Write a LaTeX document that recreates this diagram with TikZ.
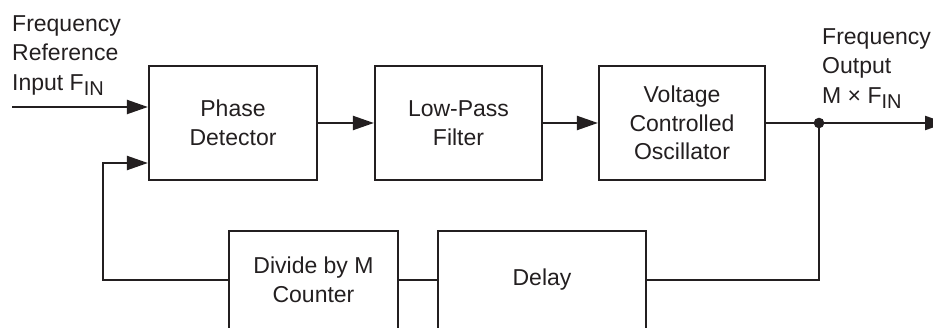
\documentclass[tikz,border=0pt]{standalone}
\usepackage{fontspec}
\setmainfont{Liberation Sans}
\usetikzlibrary{arrows.meta}
\definecolor{ink}{RGB}{35,31,32}
\newcommand{\subIN}{\raisebox{-5pt}{\fontsize{20}{20}\selectfont IN}}
\tikzset{
	blk/.style={draw=ink,text=ink,line width=2.2pt,align=center,inner sep=0pt,font=\fontsize{23}{28.5}\selectfont},
	wire/.style={draw=ink,line width=2.2pt},
	lbl/.style={text=ink,align=left,inner sep=0pt,anchor=north west,font=\fontsize{23}{29.5}\selectfont},
}
\begin{document}
\begin{tikzpicture}[x=1pt,y=-1pt,>={Triangle[length=21pt,width=14pt]}]
	\useasboundingbox (0,0) rectangle (933,328);
	\clip (0,0) rectangle (933,328);
	\node[blk,minimum width=168pt,minimum height=114pt](pd) at (233,123) {Phase\\Detector};
	\node[blk,minimum width=167pt,minimum height=114pt](lpf) at (458.5,123) {Low-Pass\\Filter};
	\node[blk,minimum width=166pt,minimum height=114pt](vco) at (682,123) {Voltage\\Controlled\\Oscillator};
	\node[blk,minimum width=169pt,minimum height=98pt](div) at (313.5,280) {Divide by M\\Counter};
	\node[blk,minimum width=208pt,minimum height=98pt](dly) at (542,280) {Delay};
	\node[lbl](inlbl) at (12,15) {Frequency\\Reference\\Input F\subIN};
	\node[lbl](outlbl) at (822,28) {Frequency\\Output\\M × F\subIN};
	\coordinate (inp) at (12,107);
	\coordinate (tap) at (819,123);
	\coordinate (out) at (946,123);
	\coordinate (fb) at (103,163);
	\draw[wire,->](inp)--(pd.west |- inp);
	\draw[wire,->](pd)--(lpf);
	\draw[wire,->](lpf)--(vco);
	\draw[wire,->](vco)--(out);
	\fill[ink](tap) circle (5.3pt);
	\draw[wire](tap) |- (dly);
	\draw[wire](dly)--(div);
	\draw[wire,->](div) -| (fb)--(pd.west |- fb);
\end{tikzpicture}
\end{document}
